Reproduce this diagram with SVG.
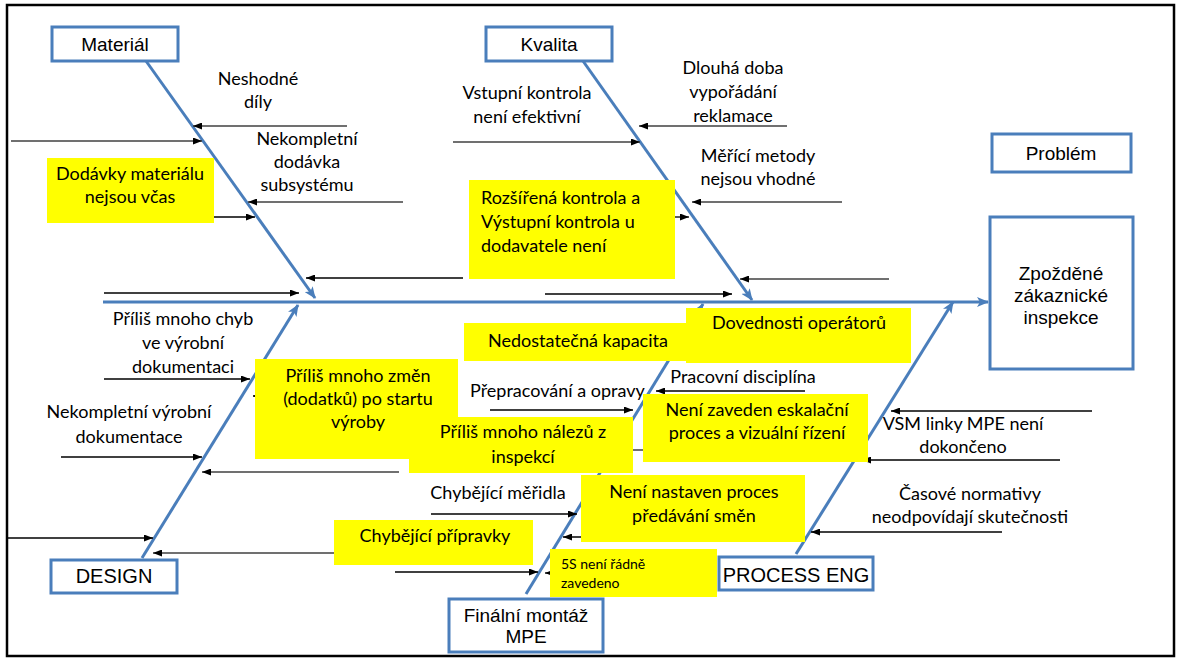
<svg xmlns="http://www.w3.org/2000/svg" width="1181" height="660" viewBox="0 0 1181 660">
<defs>
<style>
.bone{stroke:#4A7EBB;stroke-width:3;fill:none}
.box{fill:#fff;stroke:#4A7EBB;stroke-width:3}
.yel{fill:#FFFF00}
.lk{stroke:#000;stroke-width:1.3;fill:none}
.lg{stroke:#404040;stroke-width:1.6;fill:none}
.t{font-family:Lato,"Liberation Sans",sans-serif;font-size:18px;fill:#000;text-anchor:middle}
.ts{font-family:Lato,"Liberation Sans",sans-serif;font-size:14px;fill:#000}
.a{font-family:"Liberation Sans",Arial,sans-serif;font-size:19px;fill:#000;text-anchor:middle}
</style>
<marker id="ah" viewBox="0 0 9 7" refX="9" refY="3.5" markerWidth="9" markerHeight="7" markerUnits="userSpaceOnUse" orient="auto"><path d="M0,0 L9,3.5 L0,7 z" fill="#000"/></marker>
<marker id="bh" viewBox="0 0 12 10" refX="11" refY="5" markerWidth="12" markerHeight="10" markerUnits="userSpaceOnUse" orient="auto"><path d="M0,0 L12,5 L0,10 L3,5 z" fill="#4A7EBB"/></marker>
</defs>
<rect x="0" y="0" width="1181" height="660" fill="#fff"/>
<rect x="7" y="5" width="1167" height="651" fill="none" stroke="#000" stroke-width="2.5"/>

<g id="connectors">
<path class="bone" d="M103,302 H988" marker-end="url(#bh)"/>
<path class="bone" d="M146,61 L315,298" marker-end="url(#bh)"/>
<path class="bone" d="M583,61 L752,300" marker-end="url(#bh)"/>
<path class="bone" d="M142,558 L298,305" marker-end="url(#bh)"/>
<path class="bone" d="M526,594 L703,304" marker-end="url(#bh)"/>
<path class="bone" d="M796,554 L953,302" marker-end="url(#bh)"/>

<path class="lg" d="M347,126 H193" marker-end="url(#ah)"/>
<path class="lg" d="M11,141 H202" marker-end="url(#ah)"/>
<path class="lg" d="M403,202 H248" marker-end="url(#ah)"/>
<path class="lk" d="M214,217 H255" marker-end="url(#ah)"/>
<path class="lk" d="M463,278 H306" marker-end="url(#ah)"/>
<path class="lk" d="M104,293 H299" marker-end="url(#ah)"/>

<path class="lg" d="M787,126 H639" marker-end="url(#ah)"/>
<path class="lg" d="M453,142 H640" marker-end="url(#ah)"/>
<path class="lg" d="M842,202 H692" marker-end="url(#ah)"/>
<path class="lk" d="M675,217 H689" marker-end="url(#ah)"/>
<path class="lg" d="M889,279 H740" marker-end="url(#ah)"/>
<path class="lk" d="M545,294 H732" marker-end="url(#ah)"/>

<path class="lk" d="M104,379 H250" marker-end="url(#ah)"/>
<path class="lk" d="M330,396 H253" marker-end="url(#ah)"/>
<path class="lk" d="M61,457 H202" marker-end="url(#ah)"/>
<path class="lg" d="M399,472 H202" marker-end="url(#ah)"/>
<path class="lg" d="M345,553 H153" marker-end="url(#ah)"/>
<path class="lk" d="M8,538 H153" marker-end="url(#ah)"/>

<path class="lk" d="M490,410 H633" marker-end="url(#ah)"/>
<path class="lk" d="M805,391 H656" marker-end="url(#ah)"/>
<path class="lg" d="M660,450 H616" marker-end="url(#ah)"/>
<path class="lk" d="M431,514 H577" marker-end="url(#ah)"/>
<path class="lk" d="M600,537 H563" marker-end="url(#ah)"/>
<path class="lk" d="M395,572 H538" marker-end="url(#ah)"/>
<path class="lk" d="M570,573 H545" marker-end="url(#ah)"/>

<path class="lk" d="M1060,460 H862" marker-end="url(#ah)"/>
<path class="lk" d="M1092,411 H891" marker-end="url(#ah)"/>
<path class="lk" d="M1002,532 H811" marker-end="url(#ah)"/>
</g>

<g id="cat-material"><rect class="box" x="52" y="27" width="126" height="34"/><text class="a" x="115" y="51">Materiál</text></g>
<g id="cat-kvalita"><rect class="box" x="486" y="27" width="126" height="34"/><text class="a" x="549" y="51">Kvalita</text></g>
<g id="label-problem"><rect class="box" x="992" y="134" width="139" height="38"/><text class="a" x="1061" y="160">Problém</text></g>
<g id="problem"><rect class="box" x="990" y="217" width="143" height="152"/><text class="a" x="1061" y="280">Zpožděné</text><text class="a" x="1061" y="302">zákaznické</text><text class="a" x="1061" y="324">inspekce</text></g>
<g id="cat-design"><rect class="box" x="51" y="560" width="126" height="33"/><text class="a" x="114" y="583" style="font-size:20px">DESIGN</text></g>
<g id="cat-final"><rect class="box" x="449" y="599" width="154" height="53"/><text class="a" x="526" y="622">Finální montáž</text><text class="a" x="526" y="643">MPE</text></g>
<g id="cat-process"><rect class="box" x="719" y="557" width="154" height="33"/><text class="a" x="796" y="582" style="font-size:20px">PROCESS ENG</text></g>

<g id="c-neshodne"><text class="t" x="258" y="85">Neshodné</text><text class="t" x="258" y="108">díly</text></g>
<g id="c-nekompletni-dodavka"><text class="t" x="307" y="145">Nekompletní</text><text class="t" x="307" y="168">dodávka</text><text class="t" x="307" y="191">subsystému</text></g>
<g id="c-vstupni"><text class="t" x="527" y="99">Vstupní kontrola</text><text class="t" x="527" y="123">není efektivní</text></g>
<g id="c-dlouha"><text class="t" x="733" y="74">Dlouhá doba</text><text class="t" x="733" y="98">vypořádání</text><text class="t" x="733" y="122">reklamace</text></g>
<g id="c-merici"><text class="t" x="758" y="162">Měřící metody</text><text class="t" x="758" y="185">nejsou vhodné</text></g>
<g id="c-chyby"><text class="t" x="183" y="325">Příliš mnoho chyb</text><text class="t" x="183" y="349">ve výrobní</text><text class="t" x="183" y="373">dokumentaci</text></g>
<g id="c-nekompletni-vyrobni"><text class="t" x="129" y="418">Nekompletní výrobní</text><text class="t" x="129" y="443">dokumentace</text></g>
<g id="c-prepracovani"><text class="t" x="470" y="397" style="text-anchor:start">Přepracování a opravy</text></g>
<g id="c-pracovni"><text class="t" x="743" y="383">Pracovní disciplína</text></g>
<g id="c-vsm"><text class="t" x="963" y="430">VSM linky MPE není</text><text class="t" x="963" y="453">dokončeno</text></g>
<g id="c-casove"><text class="t" x="970" y="500">Časové normativy</text><text class="t" x="970" y="523">neodpovídají skutečnosti</text></g>
<g id="c-meridla"><text class="t" x="498" y="499">Chybějící měřidla</text></g>

<g id="y-dodavky"><rect class="yel" x="47" y="158" width="167" height="65"/><text class="t" x="130" y="180">Dodávky materiálu</text><text class="t" x="130" y="203">nejsou včas</text></g>
<g id="y-rozsirena"><rect class="yel" x="469" y="180" width="206" height="99"/><text class="t" x="481" y="204" style="text-anchor:start">Rozšířená kontrola a</text><text class="t" x="481" y="228" style="text-anchor:start">Výstupní kontrola u</text><text class="t" x="481" y="252" style="text-anchor:start">dodavatele není</text></g>
<g id="y-zmeny"><rect class="yel" x="255" y="359" width="203" height="100"/><text class="t" x="358" y="382">Příliš mnoho změn</text><text class="t" x="358" y="405">(dodatků) po startu</text><text class="t" x="358" y="428">výroby</text></g>
<g id="y-nalezy"><rect class="yel" x="409" y="417" width="224" height="56"/><text class="t" x="523" y="438">Příliš mnoho nálezů z</text><text class="t" x="523" y="463">inspekcí</text></g>
<g id="y-kapacita"><rect class="yel" x="464" y="323" width="223" height="38"/><text class="t" x="578" y="347">Nedostatečná kapacita</text></g>
<g id="y-dovednosti"><rect class="yel" x="686" y="308" width="225" height="55"/><text class="t" x="799" y="329">Dovednosti operátorů</text></g>
<g id="y-eskalace"><rect class="yel" x="643" y="394" width="225" height="68"/><text class="t" x="757" y="416">Není zaveden eskalační</text><text class="t" x="757" y="439">proces a vizuální řízení</text></g>
<g id="y-smeny"><rect class="yel" x="581" y="475" width="224" height="67"/><text class="t" x="694" y="498">Není nastaven proces</text><text class="t" x="694" y="522">předávání směn</text></g>
<g id="y-pripravky"><rect class="yel" x="334" y="520" width="199" height="45"/><text class="t" x="435" y="542">Chybějící přípravky</text></g>
<g id="y-5s"><rect class="yel" x="550" y="549" width="167" height="48"/><text class="ts" x="561" y="569">5S není řádně</text><text class="ts" x="561" y="588">zavedeno</text></g>
</svg>
